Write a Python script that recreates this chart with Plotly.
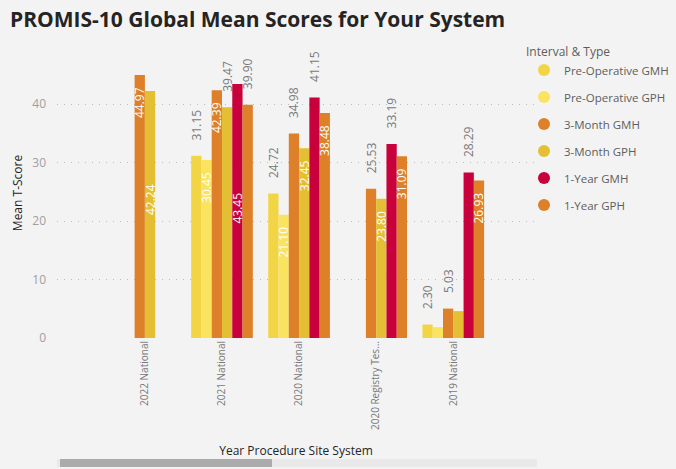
import plotly.graph_objects as go

categories = ["2022 National", "2021 National", "2020 National", "2020 Registry Tes...", "2019 National"]

series_names = ["Pre-Operative GMH", "Pre-Operative GPH", "3-Month GMH", "3-Month GPH", "1-Year GMH", "1-Year GPH"]
pre_op_gmh = [None, 31.15, 24.72, None, 2.30]
pre_op_gph = [None, 30.45, 21.10, None, 1.85]
m3_gmh = [44.97, 42.39, 34.98, 25.53, 5.03]
m3_gph = [42.24, 39.47, 32.45, 23.80, 4.60]
y1_gmh = [None, 43.45, 41.15, 33.19, 28.29]
y1_gph = [None, 39.90, 38.48, 31.09, 26.93]

# label placement as Power BI rendered it:
# "o" outside grey, "i" inside end white, "m" inside middle white, "" hidden
pre_op_gmh_pos = ["", "o", "o", "", "o"]
pre_op_gph_pos = ["", "i", "i", "", ""]
m3_gmh_pos = ["i", "i", "o", "o", "o"]
m3_gph_pos = ["m", "o", "i", "i", ""]
y1_gmh_pos = ["", "m", "o", "o", "o"]
y1_gph_pos = ["", "o", "i", "i", "i"]

colors = ["#F2D545", "#FAE35E", "#DE8029", "#E5BF33", "#C8003B", "#DD8028"]

values = [pre_op_gmh, pre_op_gph, m3_gmh, m3_gph, y1_gmh, y1_gph]
positions = [pre_op_gmh_pos, pre_op_gph_pos, m3_gmh_pos, m3_gph_pos, y1_gmh_pos, y1_gph_pos]

NB = "\u00a0"
FONT = "Open Sans"
fig = go.Figure()

for name, vals, pos, col in zip(series_names, values, positions, colors):
    texts = []
    tpos = []
    for v, p in zip(vals, pos):
        if v is None or p == "":
            texts.append("")
            tpos.append("none")
        elif p == "o":
            texts.append(NB * 4 + f"{v:.2f}")
            tpos.append("outside")
        elif p == "m":
            texts.append(f"{v:.2f}" + NB * (29 if v < 43 else 34))
            tpos.append("inside")
        else:
            texts.append(f"{v:.2f}" + NB * 3)
            tpos.append("inside")
    fig.add_trace(go.Bar(
        x=categories, y=vals, name=name, marker_color=col, marker_line_width=0,
        text=texts, textposition=tpos, textangle=-90,
        insidetextanchor="end", constraintext="none", cliponaxis=False,
        insidetextfont=dict(color="white", size=12, family=FONT),
        outsidetextfont=dict(color="#7A7A7A", size=12, family=FONT),
        showlegend=False, legendgroup=name,
    ))

for name, col in zip(series_names, colors):
    fig.add_trace(go.Scatter(
        x=[None], y=[None], mode="markers", name=name, legendgroup=name,
        marker=dict(color=col, size=12, symbol="circle"),
        showlegend=True,
    ))

W, H = 676, 469
L, R, T, B = 57, 141, 48, 131
pw, ph = W - L - R, H - T - B

def px(x):
    return (x - L) / pw

def py(y):
    return (H - B - y) / ph

fig.update_layout(
    width=W, height=H,
    margin=dict(l=L, r=R, t=T, b=B, autoexpand=False),
    paper_bgcolor="#F3F3F3", plot_bgcolor="#F3F3F3",
    font=dict(family=FONT, color="#605E5C"),
    title=dict(text="<b>PROMIS-10 Global Mean Scores for Your System</b>",
               x=10 / W, xanchor="left", y=1 - 20 / H, yanchor="middle",
               font=dict(size=21, color="#252423", family=FONT)),
    barmode="group", bargap=0.2, bargroupgap=0,
    xaxis=dict(range=[-1.14, 5.06], tickangle=-90, showgrid=False, zeroline=False,
               showline=False, ticks="", tickfont=dict(size=10, color="#777777"),
               automargin=False,
               title=dict(text="Year Procedure Site System", font=dict(size=12, color="#252423"),
                          standoff=17)),
    yaxis=dict(range=[0, 49.6], tickvals=[0, 10, 20, 30, 40], showgrid=True,
               gridcolor="#BDBDBD", griddash="1px,6px", gridwidth=1,
               zeroline=False, showline=False, ticks="", ticklabelstandoff=10,
               automargin=False,
               tickfont=dict(size=12, color="#A0A0A0"),
               title=dict(text="Mean T-Score", font=dict(size=12, color="#252423"), standoff=7)),
    legend=dict(title=dict(text="Interval & Type", font=dict(size=12, color="#605E5C")),
                x=px(524), xanchor="left", y=py(40), yanchor="top",
                font=dict(size=11.5, color="#605E5C"), tracegroupgap=8,
                itemwidth=30, bgcolor="rgba(0,0,0,0)"),
    shapes=[
        dict(type="rect", xref="paper", yref="paper", x0=px(57), x1=px(537), y0=py(467), y1=py(459),
             fillcolor="#E9E9E9", line_width=0, layer="below"),
        dict(type="rect", xref="paper", yref="paper", x0=px(60), x1=px(272), y0=py(467), y1=py(459),
             fillcolor="#ABABAB", line_width=0),
    ],
)

fig.write_html("out.html", config={"displayModeBar": False},
               post_script="document.body.style.margin='0px';")
